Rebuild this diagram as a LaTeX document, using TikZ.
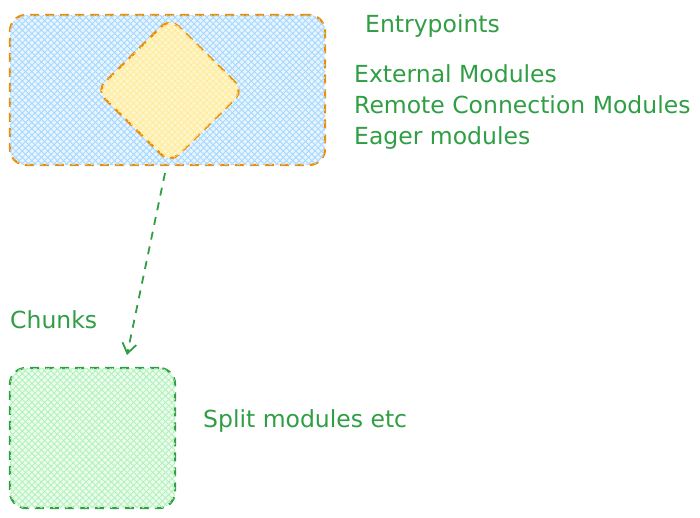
\documentclass[tikz,border=0pt]{standalone}
\usepackage{fontspec}
\setmainfont{DejaVu Sans}
\usetikzlibrary{arrows.meta,patterns.meta,shapes.geometric}
\definecolor{sketchblue}{HTML}{A5D8FF}
\definecolor{sketchyellow}{HTML}{FFEC99}
\definecolor{sketchgreen}{HTML}{B2F2BB}
\definecolor{inkorange}{HTML}{F08C00}
\definecolor{inkgreen}{HTML}{2F9E44}

\begin{document}
\begin{tikzpicture}[x=1pt,y=-1pt,>={Straight Barb[length=10pt,width=14pt,line width=1.8pt]},
  hatch/.style={postaction={pattern={Lines[angle=45,distance=4.5pt,line width=.9pt]},pattern color=#1},
                postaction={pattern={Lines[angle=-45,distance=4.5pt,line width=.9pt]},pattern color=#1}},
  box/.style={draw,line width=2.2pt,dash pattern=on 9pt off 6pt,rounded corners=16pt,inner sep=0pt},
  lbl/.style={inkgreen,anchor=base west,inner sep=0pt,font=\fontsize{23.5}{28}\selectfont}]
\useasboundingbox (0,0) rectangle (700,517);
% entrypoints area
\node[box,draw=inkorange,fill=sketchblue!25,hatch=sketchblue,minimum width=315pt,minimum height=150pt] (entry) at (167.5,90) {};
\node[box,diamond,draw=inkorange,rounded corners=12pt,fill=sketchyellow!50,hatch=sketchyellow,minimum width=148pt,minimum height=146pt] (shared) at (170,90.5) {};
% chunks area
\node[box,draw=inkgreen,fill=sketchgreen!25,hatch=sketchgreen,minimum width=165pt,minimum height=140pt] (chunk) at (92.5,438) {};
% labels
\node[lbl] (entrytitle) at (365,32) {Entrypoints};
\node[lbl] (extmods) at (354,82) {External Modules};
\node[lbl] (remotemods) at (354,113) {Remote Connection Modules};
\node[lbl] (eagermods) at (354,144) {Eager modules};
\node[lbl] (chunktitle) at (10,328) {Chunks};
\node[lbl] (splitmods) at (203,427) {Split modules etc};
% split link
\coordinate (linkstart) at (165,173);
\coordinate (linkend) at (127,355);
\draw[->,inkgreen,line width=1.8pt,dash pattern=on 8pt off 7pt] (linkstart) -- (linkend);
\end{tikzpicture}
\end{document}
